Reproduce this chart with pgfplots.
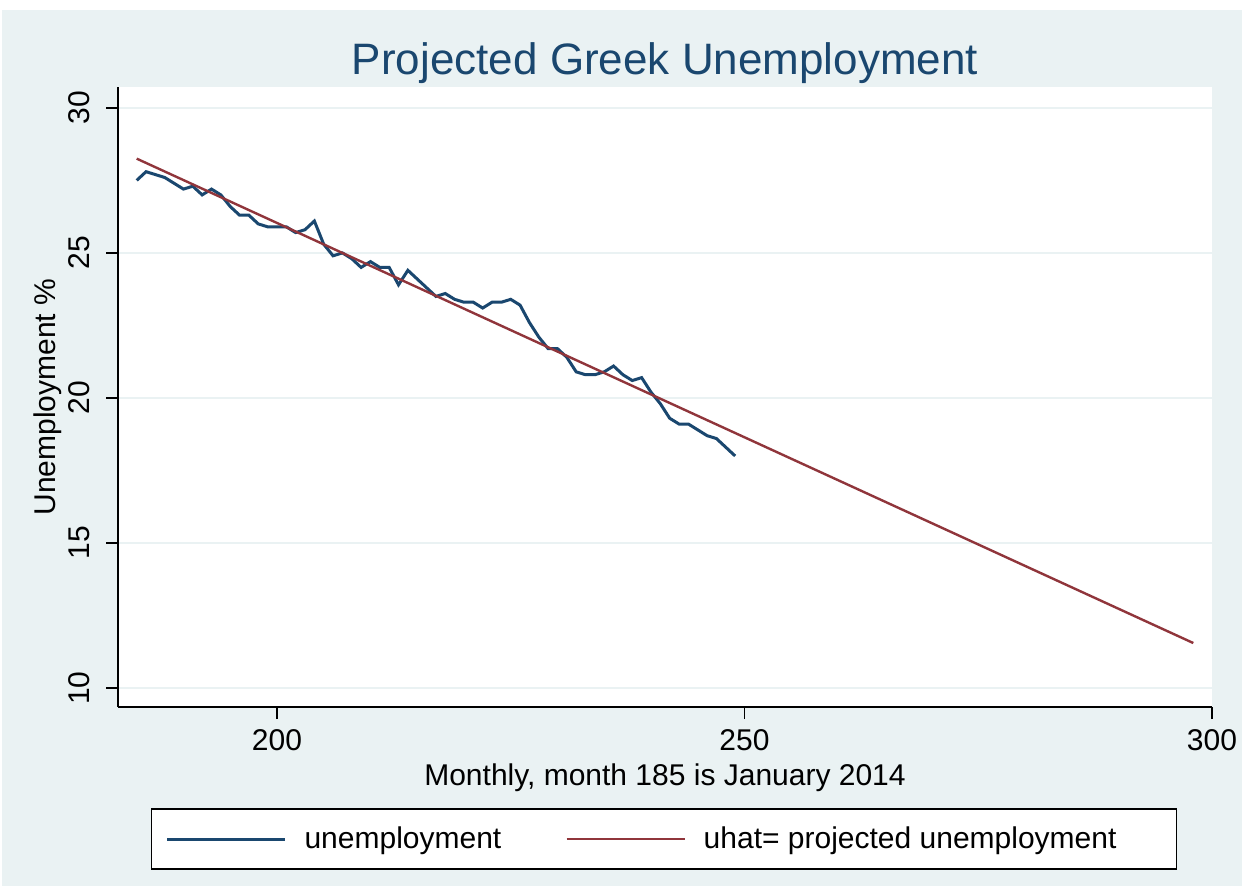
\documentclass[border=0pt]{standalone}
\usepackage{fontspec}
\setmainfont{Liberation Sans}
\usepackage{pgfplots}
\usepackage{pgfplotstable}
\pgfplotsset{compat=1.18}
\definecolor{stbg}{HTML}{EAF2F3}
\definecolor{stnavy}{HTML}{1A476F}
\definecolor{stmaroon}{HTML}{90353B}
\pgfplotstableread{
m u
185 27.5
186 27.8
187 27.7
188 27.6
189 27.4
190 27.2
191 27.3
192 27.0
193 27.2
194 27.0
195 26.6
196 26.3
197 26.3
198 26.0
199 25.9
200 25.9
201 25.9
202 25.7
203 25.8
204 26.1
205 25.3
206 24.9
207 25.0
208 24.8
209 24.5
210 24.7
211 24.5
212 24.5
213 23.9
214 24.4
215 24.1
216 23.8
217 23.5
218 23.6
219 23.4
220 23.3
221 23.3
222 23.1
223 23.3
224 23.3
225 23.4
226 23.2
227 22.6
228 22.1
229 21.7
230 21.7
231 21.4
232 20.9
233 20.8
234 20.8
235 20.9
236 21.1
237 20.8
238 20.6
239 20.7
240 20.2
241 19.8
242 19.3
243 19.1
244 19.1
245 18.9
246 18.7
247 18.6
248 18.3
249 18.0
}\unemp
\pgfplotstableread{
m uhat
185 28.25
298 11.55
}\uhat
\begin{document}
\begin{tikzpicture}[x=1pt,y=1pt]
\fill[white] (0,0) rectangle (623,-443);
\fill[stbg] (1,-5) rectangle (621,-443);
\begin{axis}[
  at={(59pt,-353.5pt)}, anchor=south west,
  scale only axis, width=547pt, height=310pt,
  xmin=183, xmax=300, ymin=9.345, ymax=30.72,
  axis x line*=bottom, axis y line*=left,
  axis line style={black, line width=0.7pt},
  axis background/.style={fill=white},
  xtick={200,250,300}, ytick={10,15,20,25,30},
  tick align=outside, major tick length=6pt,
  tick style={black, line width=0.7pt},
  ymajorgrids, grid style={stbg, line width=1pt},
  /pgf/number format/assume math mode=true,
  ticklabel style={font=\fontsize{15}{18}\selectfont},
  xticklabel style={anchor=base, yshift=-15.5pt},
  yticklabel style={rotate=90, anchor=base},
  yticklabel shift=8.5pt,
  title={Projected Greek Unemployment},
  title style={at={(axis description cs:0.5,1.0)}, anchor=base, font=\fontsize{22}{26}\selectfont, text=stnavy},
  xlabel={Monthly, month 185 is January 2014},
  xlabel style={at={(axis description cs:0.5,-0.1274)}, anchor=base, font=\fontsize{15}{18}\selectfont},
  ylabel={Unemployment \%},
  ylabel style={at={(axis description cs:-0.0568,0.5)}, anchor=base, font=\fontsize{15}{18}\selectfont},
  legend columns=2,
  legend image code/.code={\draw[#1] (0pt,0pt) -- (59pt,0pt);},
  legend style={at={(axis description cs:0.4991,-0.2129)}, anchor=center,
    draw=black, line width=0.7pt, fill=white, font=\fontsize{15}{18}\selectfont,
    inner xsep=7pt, inner ysep=6.75pt,
    /tikz/every odd column/.append style={column sep=7pt},
    /tikz/every even column/.append style={column sep=30pt}},
]
\addplot[stnavy, line width=1.5pt] table[x=m, y=u] {\unemp};
\addlegendentry{unemployment}
\addplot[stmaroon, line width=1.2pt] table[x=m, y=uhat] {\uhat};
\addlegendentry{uhat= projected unemployment\hspace*{21pt}\null}
\end{axis}
\end{tikzpicture}
\end{document}
